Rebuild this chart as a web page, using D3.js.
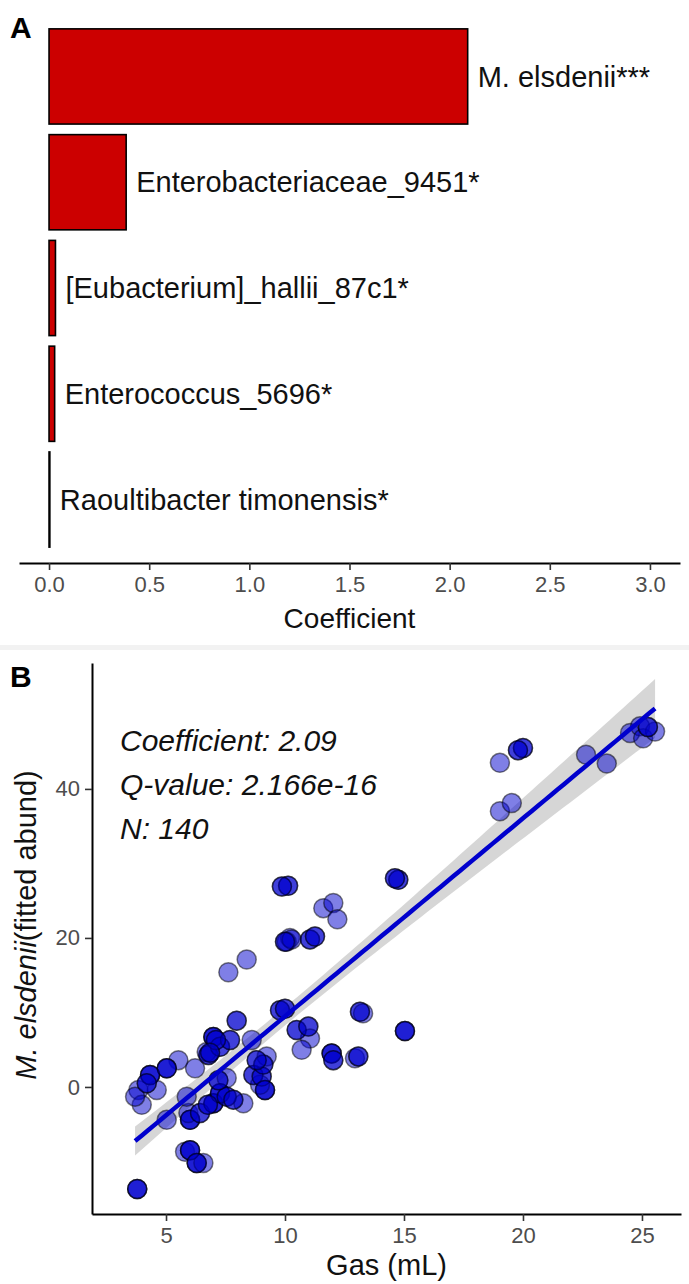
<!DOCTYPE html>
<html><head><meta charset="utf-8">
<script src="https://cdn.jsdelivr.net/npm/d3@7"></script>
<style>
body{margin:0;background:#fff}
svg{display:block;font-family:"Liberation Sans",Arial,Helvetica,sans-serif}
</style>
</head><body>
<svg id="fig" width="689" height="1284"></svg>
<script>
// ---- Panel A: coefficients per taxon ----
const taxa = ["M. elsdenii", "Enterobacteriaceae_9451", "[Eubacterium]_hallii_87c1", "Enterococcus_5696", "Raoultibacter timonensis"];
const stars = ["***", "*", "*", "*", "*"];
const coefficients = [2.09, 0.385, 0.032, 0.028, 0.004];
const coefTicks = [0, 0.5, 1.0, 1.5, 2.0, 2.5, 3.0];

// ---- Panel B: gas production vs fitted abundance (140 samples) ----
const gas = [
  19.03, 19.79, 20.0, 19.03, 19.53, 22.65, 23.52, 24.5, 24.92, 25.05, 25.55, 25.25,
  14.76, 14.62, 9.87, 10.13, 11.61, 12.03, 12.2, 10.0, 10.21, 11.05, 11.26, 7.62, 8.39,
  9.79, 10.0, 7.97, 13.15, 13.28, 15.04, 15.04, 10.49, 10.98, 11.05, 10.7, 11.96, 11.96, 12.03, 12.94, 13.08,
  3.79, 3.79, 6.99, 6.99, 6.78, 7.27, 7.69, 7.1, 8.6, 5.52, 6.22, 5.03, 5.03, 4.33, 4.33,
  3.84, 4.61, 4.19, 3.98, 5.03, 6.01, 6.01, 5.94, 6.43, 5.8, 6.01, 6.01, 6.29, 6.29, 6.57,
  6.99, 6.99, 6.76, 7.27, 7.27, 7.55, 7.83, 8.25, 7.2, 7.55, 5.87, 8.81, 9.09, 9.23, 8.67, 9.02,
  9.16, 9.16, 8.95, 6.85, 6.71, 3.7, 10.07, 10.28,
  3.79, 14.76, 14.62, 10.13, 10.0, 11.05, 11.26, 9.79, 10.0, 13.15, 15.04, 10.49, 10.98, 11.96, 12.03,
  13.08, 20.0, 6.99, 6.78, 7.27, 7.69, 7.1, 4.33, 5.03, 4.19, 6.01, 6.43, 6.01, 6.29, 6.99,
  7.27, 7.55, 7.83, 8.67, 9.02, 9.16, 9.09, 8.81, 7.2, 6.85, 7.97, 6.76, 19.79, 25.25, 9.87
];
const abund = [
  43.5, 45.2, 45.5, 37.0, 38.1, 44.6, 43.4, 47.5, 48.4, 46.8, 47.7, 48.3,
  27.8, 28.0, 26.9, 27.0, 24.0, 24.7, 22.5, 19.5, 20.0, 19.8, 20.2, 15.4, 17.1,
  10.3, 10.5, 8.9, 10.1, 9.9, 7.5, 7.5, 7.65, 8.1, 6.5, 5.0, 4.5, 4.5, 3.6, 3.85, 4.1,
  -13.7, -13.7, 6.7, 6.7, 4.3, 5.4, 6.3, 6.3, 6.3, 3.6, 2.5, 2.5, 2.5, 1.6, 1.6,
  -0.4, -0.4, 0.5, -2.4, -4.4, -4.4, -4.4, -3.5, -3.5, -8.7, -8.5, -8.5, -10.2, -10.2, -10.2,
  -2.2, -2.2, -2.4, -0.85, -0.85, -1.3, -1.7, -2.2, 0.9, 1.2, -1.3, 3.6, 3.0, 4.1, 1.6, 1.4,
  -0.4, -0.4, 0.3, 4.6, 4.7, -1.3, 19.5, 19.8,
  -13.7, 27.8, 28.0, 27.0, 19.5, 19.8, 20.2, 10.3, 10.5, 10.1, 7.5, 7.65, 8.1, 4.5, 3.6,
  4.1, 45.5, 6.7, 4.3, 5.4, 6.3, 6.3, 1.6, 2.5, 0.5, -4.4, -3.5, -8.5, -10.2, -2.2,
  -0.85, -1.3, -1.7, 1.6, 1.4, -0.4, 3.0, 3.6, 0.9, 4.6, 8.9, -2.4, 45.2, 48.3, 26.9
];
const gasTicks = [5, 10, 15, 20, 25];
const abundTicks = [0, 20, 40];
const statLines = ["Coefficient: 2.09", "Q-value: 2.166e-16", "N: 140"];

const svg = d3.select("#fig");
const ink = "#000", tickInk = "#4d4d4d";

// ================= Panel A =================
const xA = d3.scaleLinear().domain([-0.15, 3.15]).range([19, 680]);
const yA = d3.scaleBand().domain(taxa).range([13, 563]).paddingInner(0.1).paddingOuter(0.15);
const gA = svg.append("g");

gA.selectAll("rect.bar").data(taxa).join("rect")
  .attr("class", "bar")
  .attr("x", xA(0))
  .attr("y", d => yA(d))
  .attr("width", (d, i) => xA(coefficients[i]) - xA(0))
  .attr("height", yA.bandwidth())
  .attr("fill", "#cc0000")
  .attr("stroke", ink)
  .attr("stroke-width", 1.6);

gA.selectAll("text.lab").data(taxa).join("text")
  .attr("class", "lab")
  .attr("x", (d, i) => xA(coefficients[i] + 0.05))
  .attr("y", d => yA(d) + yA.bandwidth() / 2)
  .attr("dy", "0.35em")
  .attr("font-size", 29)
  .attr("fill", "#111")
  .text((d, i) => d + stars[i]);

const axA = gA.append("g").attr("transform", "translate(0,563)")
  .call(d3.axisBottom(xA).tickValues(coefTicks).tickFormat(d3.format(".1f"))
    .tickSize(7).tickSizeOuter(0).tickPadding(6));
axA.attr("font-family", null);
axA.select(".domain").attr("stroke", ink).attr("stroke-width", 2);
axA.selectAll(".tick line").attr("stroke", "#333").attr("stroke-width", 1.6);
axA.selectAll(".tick text").attr("font-size", 22).attr("fill", tickInk);

gA.append("text").attr("x", xA(1.5)).attr("y", 628).attr("text-anchor", "middle")
  .attr("font-size", 28).attr("fill", "#111").text("Coefficient");

svg.append("text").attr("x", 10).attr("y", 38).attr("font-size", 30).attr("font-weight", "bold").text("A");

// separator strip between panels
svg.append("rect").attr("x", 0).attr("y", 645).attr("width", 689).attr("height", 5).attr("fill", "#f2f2f2");

// ================= Panel B =================
const xB = d3.scaleLinear().domain([1.89, 26.64]).range([92, 681]);
const yB = d3.scaleLinear().domain([-17.05, 56.9]).range([1214, 663]);
const gB = svg.append("g");

// least-squares fit with 95% confidence band
const pts = gas.map((g, i) => [g, abund[i]]);
const n = pts.length;
const mx = d3.mean(gas), my = d3.mean(abund);
const sxx = d3.sum(gas, g => (g - mx) ** 2);
const sxy = d3.sum(pts, p => (p[0] - mx) * (p[1] - my));
const slope = sxy / sxx, icpt = my - slope * mx;
const sres = Math.sqrt(d3.sum(pts, p => (p[1] - icpt - slope * p[0]) ** 2) / (n - 2));
const tq = 1.977;
const [gmin, gmax] = d3.extent(gas);
const grid = d3.range(0, 81).map(k => gmin + (gmax - gmin) * k / 80);
const fit = grid.map(g => {
  const yh = icpt + slope * g;
  const se = sres * Math.sqrt(1 / n + (g - mx) ** 2 / sxx);
  return {g, yh, lo: yh - tq * se, hi: yh + tq * se};
});

gB.append("path").datum(fit)
  .attr("d", d3.area().x(d => xB(d.g)).y0(d => yB(d.lo)).y1(d => yB(d.hi)))
  .attr("fill", "#999").attr("fill-opacity", 0.4);

gB.selectAll("circle").data(pts).join("circle")
  .attr("cx", d => xB(d[0])).attr("cy", d => yB(d[1])).attr("r", 9.5)
  .attr("fill", "#0000cd").attr("fill-opacity", 0.5)
  .attr("stroke", "#000").attr("stroke-opacity", 0.5).attr("stroke-width", 1.5);

gB.append("path").datum(fit)
  .attr("d", d3.line().x(d => xB(d.g)).y(d => yB(d.yh)))
  .attr("fill", "none").attr("stroke", "#0000cd").attr("stroke-width", 4.5);

const axBx = gB.append("g").attr("transform", "translate(0,1214)")
  .call(d3.axisBottom(xB).tickValues(gasTicks).tickSize(7).tickSizeOuter(0).tickPadding(6));
const axBy = gB.append("g").attr("transform", "translate(92,0)")
  .call(d3.axisLeft(yB).tickValues(abundTicks).tickSize(7).tickSizeOuter(0).tickPadding(5));
[axBx, axBy].forEach(a => {
  a.attr("font-family", null);
  a.select(".domain").attr("stroke", ink).attr("stroke-width", 2);
  a.selectAll(".tick line").attr("stroke", "#333").attr("stroke-width", 1.6);
  a.selectAll(".tick text").attr("font-size", 22).attr("fill", tickInk);
});

gB.append("text").attr("x", (92 + 681) / 2).attr("y", 1275).attr("text-anchor", "middle")
  .attr("font-size", 29).attr("fill", "#111").text("Gas (mL)");

const yt = gB.append("text").attr("transform", "translate(36,925) rotate(-90)")
  .attr("text-anchor", "middle").attr("font-size", 29).attr("fill", "#111");
yt.append("tspan").attr("font-style", "italic").text("M. elsdenii");
yt.append("tspan").text("(fitted abund)");

gB.selectAll("text.stat").data(statLines).join("text")
  .attr("class", "stat")
  .attr("x", 120).attr("y", (d, i) => 751 + i * 44)
  .attr("font-size", 30).attr("font-style", "italic").attr("fill", "#111")
  .text(d => d);

svg.append("text").attr("x", 10).attr("y", 687).attr("font-size", 30).attr("font-weight", "bold").text("B");
</script>
</body></html>
